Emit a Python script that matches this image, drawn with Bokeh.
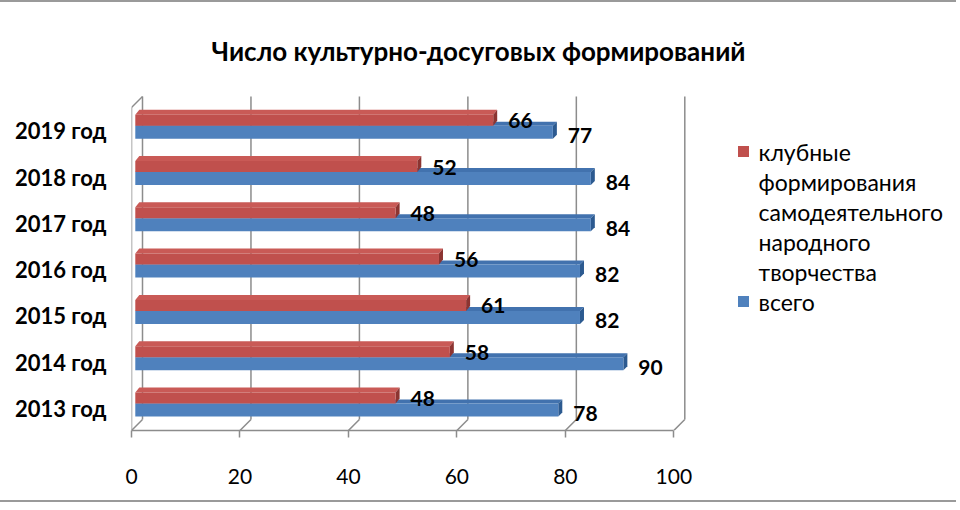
import numpy as np
from bokeh.plotting import figure
from bokeh.models import FixedTicker, Range1d
from bokeh.core.properties import value
from bokeh.embed import file_html
from bokeh.resources import INLINE

# ---- data ----
TITLE = "Число культурно-досуговых формирований"
YEARS = ["2013 год", "2014 год", "2015 год", "2016 год", "2017 год", "2018 год", "2019 год"]
CLUB = [48, 58, 61, 56, 48, 52, 66]      # клубные формирования ...
TOTAL = [78, 90, 82, 82, 84, 84, 77]     # всего
X_TICKS = [0, 20, 40, 60, 80, 100]
SERIES_NAMES = ["клубные\nформирования\nсамодеятельного\nнародного\nтворчества", "всего"]

RED, RED_TOP, RED_SIDE = "#C0504D", "#C95A56", "#8C3431"
BLUE, BLUE_TOP, BLUE_SIDE = "#4F81BD", "#4272AE", "#2C5A90"
GRID = "#8C8C8C"
FONT = "Lato"

# ---- layout (page pixel helpers) ----
ORIGIN_X, ORIGIN_Y = 1, 4          # where the canvas lands on the page
W, H = 956, 502
LEFT_BORDER = 131
PAGE_FLOOR_Y = 432                 # page y of the front floor line
BOTTOM_BORDER = ORIGIN_Y + H - PAGE_FLOOR_Y
PX_X = 5.423          # px per value unit
PX_Y = 46.3           # px per category
PAGE_X0 = ORIGIN_X + LEFT_BORDER   # page x of value 0
FLOOR = -0.475
X_END = (W - LEFT_BORDER) / PX_X
Y_END = FLOOR + (H - BOTTOM_BORDER) / PX_Y

def px_x(page_x):
    return (page_x - PAGE_X0) / PX_X

def px_y(page_y):
    return FLOOR + (PAGE_FLOOR_Y - page_y) / PX_Y

DX = 11 / PX_X        # depth offset of back wall
DY = 11 / PX_Y
TOP_BACK = px_y(98)

p = figure(width=W, height=H, x_range=Range1d(0, X_END), y_range=Range1d(FLOOR, Y_END),
           min_border_left=LEFT_BORDER, min_border_right=0, min_border_top=0,
           min_border_bottom=BOTTOM_BORDER, output_backend="svg", toolbar_location=None,
           styles={"border-top": "2px solid #9a9a9a", "border-bottom": "2px solid #9a9a9a"})
p.xgrid.visible = False
p.ygrid.visible = False
p.outline_line_color = None
p.background_fill_color = "white"
p.border_fill_color = "white"

# x axis
xa = p.xaxis[0]
xa.ticker = FixedTicker(ticks=X_TICKS)
xa.bounds = (X_TICKS[0], X_TICKS[-1])
xa.axis_line_color = GRID
xa.axis_line_width = 1.5
xa.major_tick_line_color = GRID
xa.major_tick_line_width = 1.5
xa.major_tick_out = 7
xa.major_tick_in = 0
xa.minor_tick_line_color = None
xa.major_label_text_font = FONT
xa.major_label_text_font_size = "21px"
xa.major_label_text_color = "#000000"
xa.major_label_standoff = 31

# y axis (categories)
ya = p.yaxis[0]
ya.ticker = FixedTicker(ticks=list(range(len(YEARS))))
ya.major_label_overrides = {i: y for i, y in enumerate(YEARS)}
ya.axis_line_color = None
ya.major_tick_line_color = None
ya.minor_tick_line_color = None
ya.major_label_text_font = FONT
ya.major_label_text_font_style = "bold"
ya.major_label_text_font_size = "22px"
ya.major_label_text_color = "#000000"
ya.major_label_standoff = 19

# ---- 3D walls / gridlines ----
x0s, y0s, x1s, y1s = [], [], [], []
for t in X_TICKS:
    x0s += [t + DX, t]
    y0s += [FLOOR + DY, FLOOR]
    x1s += [t + DX, t + DX]
    y1s += [TOP_BACK, FLOOR + DY]
x0s += [0, 0]
y0s += [FLOOR, TOP_BACK - DY]
x1s += [0, DX]
y1s += [TOP_BACK - DY, TOP_BACK]
p.segment(x0=x0s, y0=y0s, x1=x1s, y1=y1s, line_color=GRID, line_width=1.5)

# ---- bars ----
idx = np.arange(len(YEARS))
SHIFT = 0.7           # bars sit slightly inside the depth
SK = 4 / PX_X         # skew of top/side faces
B_LO, B_HI, B_TH = -0.173, 0.108, 4 / PX_Y
R_LO, R_HI, R_TH = 0.108, 0.346, 5 / PX_Y

def faces(vals, lo, hi, th):
    tops_x, tops_y, sides_x, sides_y = [], [], [], []
    for i, v in zip(idx, vals):
        e = v + SHIFT
        tops_x.append([SHIFT, e, e + SK, SHIFT + SK])
        tops_y.append([i + hi, i + hi, i + hi + th, i + hi + th])
        sides_x.append([e, e, e + SK, e + SK])
        sides_y.append([i + lo, i + hi, i + hi + th, i + lo + th])
    return tops_x, tops_y, sides_x, sides_y

bt_x, bt_y, bs_x, bs_y = faces(TOTAL, B_LO, B_HI, B_TH)
p.patches(xs=bt_x, ys=bt_y, fill_color=BLUE_TOP, line_color=None)
p.patches(xs=bs_x, ys=bs_y, fill_color=BLUE_SIDE, line_color=None)
p.hbar(y=idx + (B_LO + B_HI) / 2, height=B_HI - B_LO, left=SHIFT,
       right=np.array(TOTAL) + SHIFT, fill_color=BLUE, line_color=None)

rt_x, rt_y, rs_x, rs_y = faces(CLUB, R_LO, R_HI, R_TH)
p.patches(xs=rt_x, ys=rt_y, fill_color=RED_TOP, line_color=None)
p.patches(xs=rs_x, ys=rs_y, fill_color=RED_SIDE, line_color=None)
p.hbar(y=idx + (R_LO + R_HI) / 2, height=R_HI - R_LO, left=SHIFT,
       right=np.array(CLUB) + SHIFT, fill_color=RED, line_color=None)

# ---- value labels ----
LBL_OFF = 15 / PX_X
p.text(x=np.array(CLUB) + SHIFT + LBL_OFF, y=idx + 10 / PX_Y, text=[str(v) for v in CLUB],
       text_font=value(FONT), text_font_style="bold", text_font_size="21px",
       text_align="left", text_baseline="middle", text_color="#000000")
p.text(x=np.array(TOTAL) + SHIFT + LBL_OFF, y=idx - 5 / PX_Y, text=[str(v) for v in TOTAL],
       text_font=value(FONT), text_font_style="bold", text_font_size="21px",
       text_align="left", text_baseline="middle", text_color="#000000")

# ---- title ----
p.text(x=[px_x(479)], y=[px_y(52)], text=[TITLE], text_font=value(FONT),
       text_font_style="bold", text_font_size="26px", text_align="center",
       text_baseline="middle", text_color="#000000")

# ---- legend ----
LINE_STEP = 30 / PX_Y
leg_rows = [(SERIES_NAMES[0], RED, px_y(153)), (SERIES_NAMES[1], BLUE, px_y(303))]
for name, col, y0 in leg_rows:
    p.scatter(x=[px_x(744)], y=[y0], marker="square", size=11, fill_color=col, line_color=None)
    lines = name.split("\n")
    p.text(x=[px_x(759)] * len(lines), y=[y0 - k * LINE_STEP for k in range(len(lines))],
           text=lines, text_font=value(FONT), text_font_size="23px", text_align="left",
           text_baseline="middle", text_color="#000000")

open("out.html", "w").write(file_html(p, INLINE))
